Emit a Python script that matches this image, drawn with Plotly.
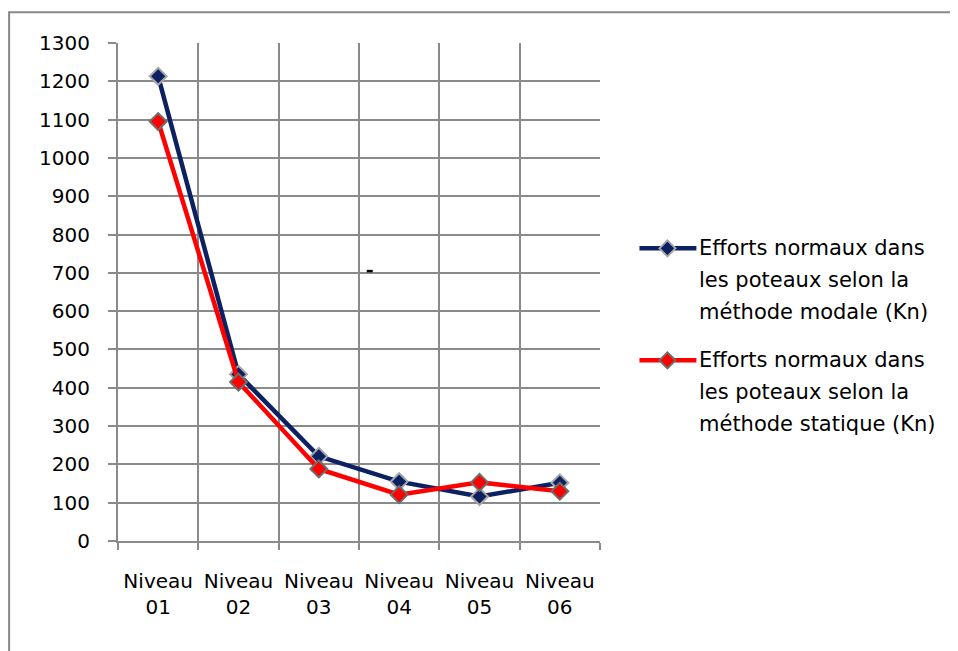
import plotly.graph_objects as go

levels = ["Niveau 01", "Niveau 02", "Niveau 03", "Niveau 04", "Niveau 05", "Niveau 06"]
level_ticks = ["Niveau<br>01", "Niveau<br>02", "Niveau<br>03", "Niveau<br>04", "Niveau<br>05", "Niveau<br>06"]
modal = [1213, 435, 221, 155, 116, 152]
statique = [1095, 415, 188, 121, 153, 130]

name_modal = ["Efforts normaux dans", "les poteaux selon la", "méthode modale (Kn)"]
name_statique = ["Efforts normaux dans", "les poteaux selon la", "méthode statique (Kn)"]

_NAVY = "#0b2161"
_RED = "#ff0000"
_GRID = "#8a8a8a"
_FONT = "DejaVu Sans"

# page has an 8px body margin, so the figure is placed at (8, 8)
OFF = 8
W, H = 958 - OFF, 651 - OFF
# plot area in page pixels: x 118..600, y 42.7..540.6
PX0, PX1, PY0, PY1 = 118, 600.5, 42.7, 540.6
L, T = PX0 - OFF, PY0 - OFF
R, B = W - (PX1 - OFF), H - (PY1 - OFF)

def px_x(p):
    return (p - PX0) / (PX1 - PX0)

def px_y(p):
    return (PY1 - p) / (PY1 - PY0)

fig = go.Figure()
fig.add_scatter(
    x=levels, y=modal, mode="lines+markers", name=" ".join(name_modal),
    line=dict(color=_NAVY, width=4.5),
    marker=dict(symbol="diamond", size=13, color=_NAVY, line=dict(color="#a6a6a6", width=2)),
)
fig.add_scatter(
    x=levels, y=statique, mode="lines+markers", name=" ".join(name_statique),
    line=dict(color=_RED, width=4.5),
    marker=dict(symbol="diamond", size=13, color=_RED, line=dict(color="#6e6e6e", width=2)),
)

shapes = [
    # chart frame (cut off at right and bottom)
    dict(type="rect", xref="paper", yref="paper", x0=px_x(9), x1=px_x(990), y0=px_y(700), y1=px_y(12),
         line=dict(color="#888888", width=2), layer="below"),
    # stray mark in the plot area
    dict(type="rect", xref="paper", yref="paper", x0=px_x(367), x1=px_x(373), y0=px_y(272), y1=px_y(269.5),
         fillcolor="black", line=dict(width=0)),
]
annotations = []

legend_rows = [(name_modal, _NAVY, "#a6a6a6", 248), (name_statique, _RED, "#6e6e6e", 360)]
for lines, col, edge, yc in legend_rows:
    shapes.append(dict(type="line", xref="paper", yref="paper", x0=px_x(640), x1=px_x(697),
                       y0=px_y(yc), y1=px_y(yc), line=dict(color=col, width=4.5)))
    shapes.append(dict(type="path", xref="paper", yref="paper", xsizemode="pixel", ysizemode="pixel",
                       xanchor=px_x(668), yanchor=px_y(yc),
                       path="M -8 0 L 0 8 L 8 0 L 0 -8 Z",
                       fillcolor=col, line=dict(color=edge, width=2)))
    for i, txt in enumerate(lines):
        annotations.append(dict(xref="paper", yref="paper", x=px_x(698), y=px_y(yc + 32 * i),
                                xanchor="left", yanchor="middle", text=txt, showarrow=False,
                                font=dict(size=21, color="black", family=_FONT)))

fig.update_layout(
    width=W, height=H,
    margin=dict(l=L, r=R, t=T, b=B, autoexpand=False),
    paper_bgcolor="white", plot_bgcolor="white",
    font=dict(family=_FONT, size=20, color="black"),
    showlegend=False,
    shapes=shapes,
    annotations=annotations,
    xaxis=dict(
        type="category", tickvals=levels, ticktext=level_ticks,
        range=[-0.5, 5.5], tickson="boundaries",
        showgrid=True, gridcolor=_GRID, gridwidth=2,
        showline=True, linecolor=_GRID, linewidth=2,
        ticks="outside", ticklen=7, tickwidth=2, tickcolor=_GRID,
        ticklabelstandoff=21,
    ),
    yaxis=dict(
        range=[0, 1300], dtick=100, tick0=0,
        showgrid=True, gridcolor=_GRID, gridwidth=2, zeroline=False,
        showline=True, linecolor=_GRID, linewidth=2,
        ticks="outside", ticklen=8, tickwidth=2, tickcolor=_GRID,
        ticklabelstandoff=14,
    ),
)

fig.write_html("out.html")
